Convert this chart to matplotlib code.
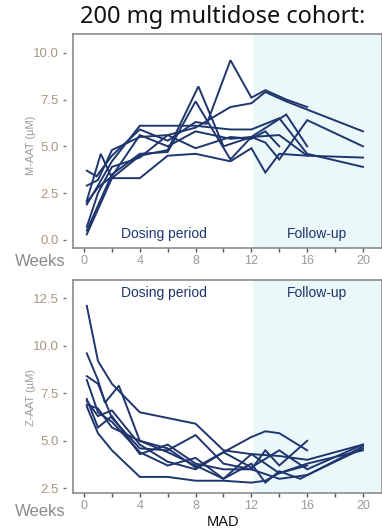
import matplotlib
matplotlib.use("Agg")
import matplotlib.pyplot as plt

# ---------------- data ----------------
week_ticks = [0, 4, 8, 12, 16, 20]
minor_ticks = [2, 6, 10, 14, 18]
m_ticks = [0.0, 2.5, 5.0, 7.5, 10.0]
z_ticks = [2.5, 5.0, 7.5, 10.0, 12.5]
followup_start = 12.1

m_x = [
    [0.2, 0.9, 2, 4, 6, 8, 8.8, 10.5, 12, 13, 14.5, 16],
    [0.2, 1, 2, 4, 6, 8, 10.5, 12, 13, 14.5, 20],
    [0.2, 1.2, 2, 4, 6, 8.2, 10, 12, 14.5, 16],
    [0.2, 1, 2, 4, 6, 8, 10.5, 12, 13, 14, 16, 20],
    [0.2, 2, 4, 6, 8, 10.5, 12, 13, 14, 16, 20],
    [0.2, 2, 4, 6, 8, 10.5, 12, 13, 14, 16, 20],
    [0.2, 1, 2, 4, 6, 8, 10.5, 12, 14, 16],
    [0.2, 1, 2, 4, 6, 8, 10.5, 12, 13, 14],
]
m_y = [
    [3.7, 3.4, 4.5, 5.9, 5.3, 6.3, 6.2, 9.6, 7.6, 8.0, 7.5, 7.1],
    [2.9, 3.2, 4.8, 5.5, 5.6, 6.0, 7.1, 7.3, 7.9, 7.4, 5.8],
    [2.1, 4.6, 3.3, 4.5, 4.8, 8.2, 5.0, 5.5, 6.7, 5.0],
    [1.9, 2.9, 4.2, 6.1, 6.1, 6.1, 5.9, 5.9, 6.2, 6.5, 4.6, 3.9],
    [0.5, 3.5, 4.6, 4.7, 7.4, 4.3, 5.5, 5.2, 4.3, 6.4, 5.0],
    [0.3, 3.3, 3.3, 4.5, 4.6, 4.2, 4.9, 3.6, 4.6, 4.5, 4.4],
    [2.0, 2.8, 3.4, 5.6, 5.0, 5.8, 5.4, 5.5, 5.6, 4.5],
    [0.7, 2.5, 3.9, 4.4, 5.6, 4.9, 5.5, 5.4, 5.8, 5.0],
]

z_x = [
    [0.2, 1, 2, 4, 6, 8, 10, 12, 14, 16, 20],
    [0.2, 1, 1.5, 2.5, 4, 6, 8, 10, 12, 13, 14, 16],
    [0.2, 1, 2, 4, 6, 8, 10, 12, 13, 14, 16],
    [0.2, 1, 2, 4, 6, 8, 10, 12, 13, 14, 15.5, 20],
    [0.2, 1, 2, 4, 6, 8, 10, 12, 14, 16, 20],
    [0.2, 1, 2, 4, 6, 8, 10, 12, 14, 16, 20],
    [0.2, 1, 2, 4, 6, 8, 10, 12, 13, 14, 16],
    [0.2, 1, 2, 4, 6, 8, 10, 12, 14, 16, 20],
]
z_y = [
    [12.1, 9.2, 8.0, 6.5, 6.2, 5.9, 4.5, 4.3, 4.2, 4.0, 4.8],
    [9.6, 8.2, 7.0, 7.9, 5.0, 4.6, 3.6, 4.4, 5.2, 5.5, 5.4, 4.5],
    [8.4, 8.0, 6.2, 4.6, 4.5, 5.3, 3.8, 3.5, 4.5, 3.7, 5.0],
    [8.2, 6.5, 6.0, 4.4, 3.7, 4.1, 3.0, 3.8, 2.8, 3.4, 3.0, 4.7],
    [7.1, 6.3, 6.6, 4.8, 3.9, 3.5, 4.4, 3.6, 4.5, 3.5, 4.8],
    [6.9, 6.7, 5.7, 5.0, 4.4, 3.7, 3.0, 4.3, 3.3, 3.8, 4.5],
    [6.8, 5.4, 4.5, 3.1, 3.1, 2.9, 2.9, 2.8, 2.9, 3.3, 3.7],
    [7.2, 5.7, 6.3, 4.3, 4.8, 3.8, 3.5, 3.5, 3.0, 3.2, 4.6],
]

# ---------------- style ----------------
W, H = 382, 530
LINE = "#1f356e"
SHADE = "#ebf8fa"
SPINE = "#8c8c8c"
YTICK = "#a8977f"
XTICK = "#9a9a9a"
FONT = ["Liberation Sans", "DejaVu Sans"]

fig = plt.figure(figsize=(W / 100, H / 100), dpi=100)


def px_rect(left, top, right, bottom):
    return [left / W, 1 - bottom / H, (right - left) / W, (bottom - top) / H]


def style_axes(ax, ylim, yticks, ylabel, ylab_y, weeks_y, text_y):
    ax.set_xlim(-0.79, 21.33)
    ax.set_ylim(*ylim)
    ax.axvspan(followup_start, 30, color=SHADE, lw=0, zorder=0)
    for s in ax.spines.values():
        s.set_color(SPINE)
        s.set_linewidth(1.2)
    ax.spines["left"].set_position(("outward", 5))
    ax.spines["left"].set_visible(False)
    ax.plot([0, 0], [0, 1], transform=ax.transAxes, color=SPINE, lw=1.2,
            clip_on=False, zorder=5)
    ax.set_xticks(week_ticks)
    ax.set_xticks(minor_ticks, minor=True)
    ax.set_yticks(yticks)
    ax.set_yticklabels([f"{v:.1f}" for v in yticks])
    ax.tick_params(axis="x", which="both", length=3, width=1, color="#555555",
                   labelsize=9, labelcolor=XTICK, pad=2)
    ax.tick_params(axis="y", length=2, width=1, color="#777777",
                   labelsize=9.5, labelcolor=YTICK, pad=3)
    for lab in ax.get_xticklabels() + ax.get_yticklabels():
        lab.set_family(FONT)
    fig.text(31 / W, 1 - ylab_y / H, ylabel, rotation=90, ha="center",
             va="center", fontsize=8, color="#9a9a9a", family=FONT)
    fig.text(66 / W, 1 - weeks_y / H, "Weeks", ha="right", va="center",
             fontsize=12, color="#8a8a8a", family=FONT)
    ax.text(5.7, text_y, "Dosing period", ha="center", va="center",
            fontsize=10, color=LINE, family=FONT)
    ax.text(16.7, text_y, "Follow-up", ha="center", va="center",
            fontsize=10, color=LINE, family=FONT)


ax1 = fig.add_axes(px_rect(73, 34, 381.5, 248))
for xs, ys in zip(m_x, m_y):
    ax1.plot(xs, ys, color=LINE, lw=1.4, solid_joinstyle="miter", zorder=3)
style_axes(ax1, (-0.43, 11.0), m_ticks, "M-AAT (\u00b5M)", 145, 261, 0.3)

ax2 = fig.add_axes(px_rect(73, 280, 381.5, 492.7))
for xs, ys in zip(z_x, z_y):
    ax2.plot(xs, ys, color=LINE, lw=1.4, solid_joinstyle="miter", zorder=3)
style_axes(ax2, (2.27, 13.46), z_ticks, "Z-AAT (\u00b5M)", 398, 512, 12.8)

fig.text(223 / W, 1 - 17 / H, "200 mg multidose cohort:", ha="center",
         va="center", fontsize=17, color="#111111",
         family=["Noto Sans", "DejaVu Sans"])
fig.text(223 / W, 1 - 522 / H, "MAD", ha="center", va="center",
         fontsize=10.5, color="#111111", family=FONT)

fig.savefig("out.png", dpi=100)
